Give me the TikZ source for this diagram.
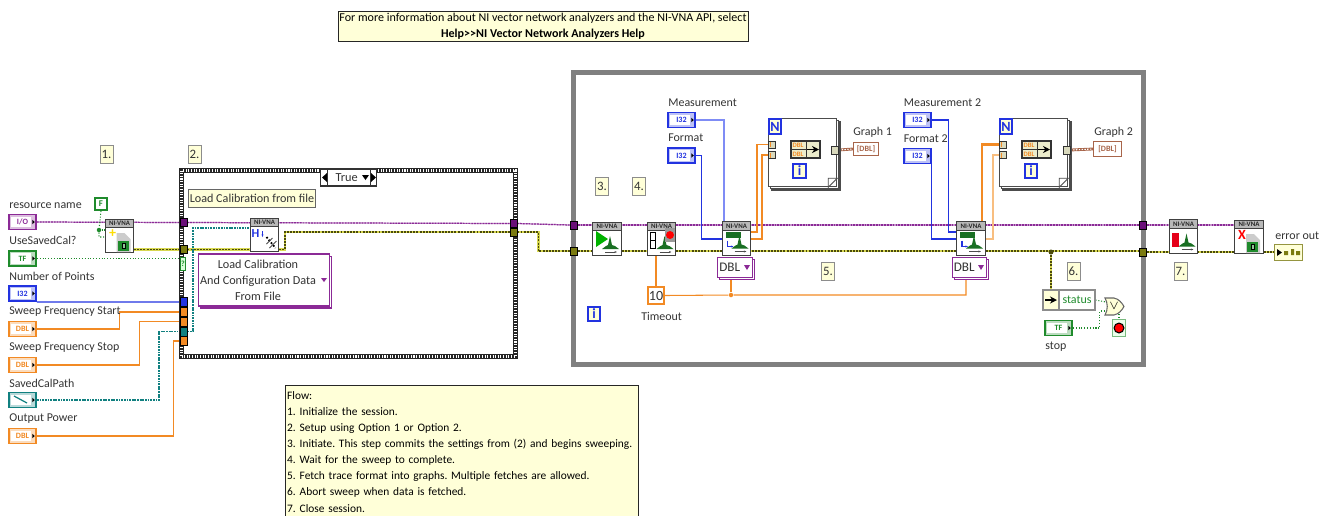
\documentclass[tikz,border=0pt]{standalone}
\usepackage{fontspec}
\setmainfont{Carlito}
\usepackage{tikz}
\usetikzlibrary{shapes,arrows,arrows.meta,positioning,calc,backgrounds,shadows}
\definecolor{nipurple}{HTML}{8B2A96}
\definecolor{nitunnel}{HTML}{6A0F78}
\definecolor{niolive}{HTML}{7B7B10}
\definecolor{nicore}{HTML}{D8D850}
\definecolor{nigreen}{HTML}{1F8B2C}
\definecolor{niblue}{HTML}{2233E0}
\definecolor{nilink}{HTML}{7F8CF5}
\definecolor{niorange}{HTML}{F28A24}
\definecolor{nipale}{HTML}{F8BE80}
\definecolor{niteal}{HTML}{118080}
\definecolor{nibrown}{HTML}{A8654A}
\definecolor{noteyellow}{HTML}{FFFFD8}
\definecolor{looprim}{HTML}{808080}
\frenchspacing

\begin{document}
\begin{tikzpicture}[x=0.02cm,y=-0.02cm,
  lbl/.style={inner sep=0pt, font=\fontsize{6.8}{9}\selectfont, text=black!80},
  term/.style={draw=#1, text=#1, fill=#1!30, line width=1.1pt, minimum width=0.54cm, minimum height=0.3cm,
               inner sep=0pt, font=\fontsize{4.6}{5}\selectfont\bfseries,
               path picture={\fill[white] ([xshift=1.3pt,yshift=1.2pt]path picture bounding box.south west)
                               rectangle ([xshift=-2.6pt,yshift=-1.2pt]path picture bounding box.north east);
                             \fill[black] ([xshift=-2pt,yshift=1.2pt]path picture bounding box.east) -- ++(1.3pt,-1.2pt) -- ++(-1.3pt,-1.2pt) -- cycle;}},
  tun/.style={draw=black, line width=0.4pt, fill=#1, minimum width=0.14cm, minimum height=0.16cm, inner sep=0pt},
  vi/.style={draw=black!75, fill=white, line width=0.6pt, minimum width=0.57cm, minimum height=0.67cm, inner sep=0pt},
  vihead/.style={draw=black!75, fill=black!28, line width=0.5pt, anchor=north, minimum width=0.57cm, minimum height=0.17cm,
                 inner sep=0pt, font=\fontsize{3.9}{4}\selectfont\bfseries, text=black!85},
  casewall/.style={draw=black!85, line width=2.9pt, postaction={draw=white, line width=1.9pt, dash pattern=on 0.6pt off 0.9pt}},
  loopwall/.style={draw=looprim, line width=2.9pt},
  forloop/.style={draw=black!70, fill=white, line width=0.8pt, minimum width=1.36cm, minimum height=1.36cm,
                  double copy shadow={shadow xshift=1pt, shadow yshift=-1pt, draw=black!70, fill=white}},
  stepnote/.style={draw=black!45, fill=noteyellow, line width=0.5pt, minimum width=0.26cm, minimum height=0.36cm,
                   inner sep=0pt, font=\fontsize{7.3}{9}\selectfont, text=black!80},
  idxbox/.style={draw=niblue, fill=noteyellow, line width=1pt, minimum width=0.25cm, minimum height=0.29cm,
                 inner sep=0pt, text=niblue, font=\fontsize{8}{9}\selectfont\bfseries},
  polybox/.style={draw=nipurple, fill=white, line width=0.7pt, inner sep=0pt,
                  copy shadow={shadow xshift=1.2pt, shadow yshift=-1.2pt, draw=nipurple, fill=white}},
  buildbox/.style={draw=black!80, fill=noteyellow!85!gray, line width=0.6pt, minimum width=0.58cm, minimum height=0.34cm, inner sep=0pt},
  dbltag/.style={inner sep=0pt, font=\fontsize{3.8}{4}\selectfont\bfseries, text=niorange},
  wpurple/.style={draw=nipurple!50, line width=0.7pt, postaction={draw=nipurple, line width=0.7pt, dash pattern=on 1pt off 0.6pt}},
  wolive/.style={draw=nicore, line width=1.5pt, postaction={draw=niolive!60!black, line width=0.7pt, dash pattern=on 1.1pt off 0.7pt}},
  wgreen/.style={draw=nigreen, line width=0.6pt, densely dotted},
  wteal/.style={draw=niteal, line width=1pt, dash pattern=on 1pt off 0.5pt},
  wblue/.style={draw=niblue, line width=0.6pt},
  wlink/.style={draw=nilink, line width=0.6pt},
  worange/.style={draw=niorange, line width=0.6pt},
  wthick/.style={draw=niorange, line width=1.3pt},
  wpale/.style={draw=nipale, line width=0.7pt},
  wbrown/.style={draw=nibrown, line width=1.6pt, postaction={draw=white, line width=0.6pt, dash pattern=on 0.8pt off 0.8pt}}
]
\useasboundingbox (0,0) rectangle (1330,515);

% notes
\node[draw=black!85, fill=noteyellow, line width=0.5pt, minimum width=8.2cm, minimum height=0.6cm, inner sep=0pt,
      align=center, font=\fontsize{6.85}{9}\selectfont] (topNote) at (543,26)
  {For more information about NI vector network analyzers and the NI-VNA API, select\\\textbf{Help{>}{>}NI Vector Network Analyzers Help}};
\node[draw=black!85, fill=noteyellow, line width=0.5pt, anchor=north west, text width=7cm, inner xsep=1pt, inner ysep=3.5pt,
      align=left, font=\fontsize{6.5}{9.15}\selectfont] (flowNote) at (285,385)
  {Flow:\\1. Initialize the session.\\2. Setup using Option 1 or Option 2.\\3. Initiate. This step commits the settings from (2) and begins sweeping.\\
   4. Wait for the sweep to complete.\\5. Fetch trace format into graphs. Multiple fetches are allowed.\\6. Abort sweep when data is fetched.\\7. Close session.};
\node[stepnote] (stepOne)   at (106.5,154.5) {1.};
\node[stepnote] (stepTwo)   at (194.5,154.5) {2.};
\node[stepnote] (stepThree) at (602,186) {3.};
\node[stepnote] (stepFour)  at (639,186) {4.};
\node[stepnote] (stepFive)  at (828,271.5) {5.};
\node[stepnote] (stepSix)   at (1073.5,271.5) {6.};
\node[stepnote] (stepSeven) at (1180.5,271.5) {7.};

% structures
\node[casewall, minimum width=6.68cm, minimum height=3.72cm, inner sep=0pt] (caseFrame) at (348.5,263.5) {};
\node[draw=black!80, fill=white, line width=0.6pt, minimum width=1.12cm, minimum height=0.34cm, inner sep=0pt,
      font=\fontsize{7}{9}\selectfont, text=black!80] (caseSel) at (348.5,177.5) {True\hspace*{2pt}};
\fill[black] (322,177.5) -- (327,173) -- (327,182) -- cycle;
\fill[black] (362,175) -- (369,175) -- (365.5,180) -- cycle;
\fill[black] (376,177.5) -- (371,173) -- (371,182) -- cycle;
\draw[black!80, line width=0.5pt] (327.5,169) -- (327.5,186) (370.5,169) -- (370.5,186);
\node[draw=black!60, fill=noteyellow, line width=0.5pt, minimum width=2.54cm, minimum height=0.36cm, inner sep=0pt,
      font=\fontsize{6.9}{9}\selectfont, text=black!80] (caseNote) at (252,198) {Load Calibration from file};
\node[loopwall, minimum width=11.42cm, minimum height=5.84cm, inner sep=0pt] (loopFrame) at (858.5,218.5) {};
\node[idxbox] (loopIdx) at (594,314) {i};

% front terminals
\node[lbl, anchor=west] (rsrcLbl)  at (9,206) {resource name};
\node[lbl, anchor=west] (calLbl)   at (9,240) {UseSavedCal?};
\node[lbl, anchor=west] (ptsLbl)   at (9,276) {Number of Points};
\node[lbl, anchor=west] (startLbl) at (9,312) {Sweep Frequency Start};
\node[lbl, anchor=west] (stopLbl)  at (9,348) {Sweep Frequency Stop};
\node[lbl, anchor=west] (pathLbl)  at (9,383) {SavedCalPath};
\node[lbl, anchor=west] (powerLbl) at (9,419) {Output Power};
\node[term=nipurple] (rsrc)       at (22.5,222) {I/O};
\node[term=nigreen]  (useCal)     at (22.5,258.5) {TF};
\node[term=niblue]   (numPts)     at (22.5,293.5) {I32};
\node[term=niorange] (sweepStart) at (22.5,329) {DBL};
\node[term=niorange] (sweepStop)  at (22.5,365) {DBL};
\node[term=niteal]   (calPath)    at (22.5,400) {};
\draw[niteal, line width=0.7pt] (14,396) -- (27,403);
\node[term=niorange] (outPower)   at (22.5,436) {DBL};
\node[draw=nigreen, fill=white, line width=1.1pt, minimum width=0.24cm, minimum height=0.24cm, inner sep=0pt,
      font=\fontsize{5}{5}\selectfont\bfseries, text=nigreen] (falseConst) at (101,204) {F};

% tunnels
\node[tun=nitunnel] (tunPurpL)  at (183.5,222.5) {};
\node[tun=niolive]  (tunOliveL) at (183.5,249.5) {};
\node[draw=nigreen, fill=green!15, line width=0.5pt, minimum width=0.11cm, minimum height=0.26cm, inner sep=0pt,
      font=\fontsize{4.5}{5}\selectfont\bfseries, text=nigreen] (selQ) at (183,263.5) {?};
\node[tun=niblue, minimum height=0.18cm]   (tunNum)   at (183.5,302) {};
\node[tun=niorange, minimum height=0.18cm] (tunStart) at (183.5,312) {};
\node[tun=niorange, minimum height=0.18cm] (tunStop)  at (183.5,321.5) {};
\node[tun=niteal, minimum height=0.18cm]   (tunPath)  at (183.5,331.5) {};
\node[tun=niorange, minimum height=0.18cm] (tunPower) at (183.5,341) {};
\node[tun=nitunnel] (tunPurpR)    at (513.5,223.5) {};
\node[tun=niolive]  (tunOliveR)   at (513.5,232) {};
\node[tun=nitunnel] (tunPurpIn)   at (574,225) {};
\node[tun=niolive]  (tunOliveIn)  at (574,251) {};
\node[tun=nitunnel] (tunPurpOut)  at (1143,225) {};
\node[tun=niolive]  (tunOliveOut) at (1143,252) {};

% driver icons
\node[vi] (initVi)     at (119.5,236) {};
\node[vi] (loadVi)     at (264.5,235) {};
\node[vi] (initiateVi) at (607,239) {};
\node[vi] (waitVi)     at (661.5,239) {};
\node[vi] (fetchA)     at (736.5,238.5) {};
\node[vi] (fetchB)     at (971,238.5) {};
\node[vi] (abortVi)    at (1183.5,236.5) {};
\node[vi] (closeVi)    at (1249,237) {};
\foreach \vi in {initVi,loadVi,initiateVi,waitVi,fetchA,fetchB,abortVi,closeVi}
  \node[vihead] (\vi Head) at (\vi.north) {NI-VNA};
% sweep glyph
\foreach \vi in {initiateVi,waitVi,fetchA,fetchB,abortVi} {
  \begin{scope}[shift={(\vi.center)}]
    \fill[nigreen!80!black] (-5,10) -- (-1,7) -- (1,6) -- (3,-3) -- (5,6) -- (8,7) -- (12,10) -- cycle;
    \draw[black!70, line width=0.4pt, -{Stealth[length=1.5pt]}] (-2,13) -- (10,13);
  \end{scope}
}
% file glyph
\foreach \vi/\col/\cross in {initVi/yellow!80!orange/+,closeVi/red/X} {
  \begin{scope}[shift={(\vi.center)}]
    \fill[black!20] (-3,-3) -- (5,-3) -- (11,3) -- (11,16) -- (-3,16) -- cycle;
    \fill[nigreen] (-2,5) rectangle (9,15);
    \fill[black] (2,7) rectangle (6,13);
    \fill[nigreen!50] (3,8) rectangle (5,12);
    \node[inner sep=0pt, text=\col, font=\fontsize{8}{8}\selectfont\bfseries] (\vi Mark) at (-7,-2) {\cross};
  \end{scope}
}
\begin{scope}[shift={(loadVi.center)}]
  \node[inner sep=0pt, text=niblue, font=\fontsize{7}{7}\selectfont\bfseries] (loadMark) at (-9,-1) {H};
  \draw[niblue, line width=0.5pt, -{Stealth[length=1.5pt]}] (-2,-4) -- (-2,2);
  \draw[black, line width=1pt, densely dotted] (2,2) -- (11,13);
  \draw[black!70, line width=0.5pt] (2,9) -- (8,3) (5,13) -- (12,6);
\end{scope}
\fill[green!70!black] (596,231) -- (596,247) -- (608,239) -- cycle;
\draw[black, line width=0.4pt] (650,232) rectangle (655,248) (650,240) -- (655,240);
\fill[black!40] (665,228) rectangle (675,242);
\fill[red] (670,235) circle (4);
\foreach \vi in {fetchA,fetchB} {
  \begin{scope}[shift={(\vi.center)}]
    \fill[nigreen!80!black] (-11,-7) rectangle (4,-1);
    \draw[niblue, line width=0.6pt, -{Stealth[length=1.5pt]}] (-9,2) -- (-9,8) -- (-3,8);
  \end{scope}
}
\fill[red!90!blue] (1172,233) rectangle (1179,247);

% constants and selectors
\node[polybox, minimum width=0.7cm, minimum height=0.4cm, font=\fontsize{7.5}{9}\selectfont, text=black!80] (dblA) at (735,267.5) {DBL\hspace*{6pt}};
\node[polybox, minimum width=0.68cm, minimum height=0.4cm, font=\fontsize{7.5}{9}\selectfont, text=black!80] (dblB) at (969.5,267.5) {DBL\hspace*{6pt}};
\fill[nipurple] (744,265) -- (750,265) -- (747,270) -- cycle;
\fill[nipurple] (978,265) -- (984,265) -- (981,270) -- cycle;
\node[polybox, minimum width=2.62cm, minimum height=1.04cm] (loadSel) at (264,280) {};
\node[lbl, align=center, font=\fontsize{6.95}{9.07}\selectfont] (loadSelText) at (258,280) {Load Calibration\\And Configuration Data\\From File};
\fill[nipurple] (321,278) -- (327,278) -- (324,282) -- cycle;
\node[draw=niorange, fill=white, line width=1.2pt, minimum width=0.32cm, minimum height=0.34cm, inner sep=0pt,
      font=\fontsize{8}{9}\selectfont, text=black!80] (tenConst) at (656,295.5) {10};
\node[lbl, anchor=west] (tenLbl) at (641,316) {Timeout};
\node[circle, fill=niorange, minimum size=0.09cm, inner sep=0pt] (tenDot) at (731,295) {};
\coordinate (tenBend) at (966,295);

% fetch inputs
\node[lbl, anchor=west] (measALbl) at (668,102.5) {Measurement};
\node[lbl, anchor=west] (fmtALbl)  at (668,138) {Format};
\node[lbl, anchor=west] (measBLbl) at (903.5,102.5) {Measurement 2};
\node[lbl, anchor=west] (fmtBLbl)  at (903.5,139) {Format 2};
\node[term=niblue] (measA) at (681.5,120) {I32};
\node[term=niblue] (fmtA)  at (681.5,155.5) {I32};
\node[term=niblue] (measB) at (917.5,120) {I32};
\node[term=niblue] (fmtB)  at (917.5,156) {I32};

% for loops
\node[forloop] (loopA) at (802.5,152.5) {};
\node[forloop] (loopB) at (1033.5,152.5) {};
\node[idxbox, minimum height=0.3cm] (loopAn) at (775,126.5) {N};
\node[idxbox, minimum height=0.3cm] (loopBn) at (1006,126.5) {N};
\node[idxbox] (loopAi) at (799.5,171) {i};
\node[idxbox] (loopBi) at (1031,171) {i};
\foreach \lp in {loopA,loopB} {
  \begin{scope}[shift={(\lp.south east)}]
    \draw[black!70, fill=white, line width=0.5pt] (-9,0) -- (0,-9) -- (-9,-9) -- cycle;
  \end{scope}
}
\foreach \n/\x in {A/772,B/1003} {
  \node[tun=noteyellow!70!gray, draw=black!80, minimum height=0.14cm] (tun\n a) at (\x,144.5) {};
  \node[tun=noteyellow!70!gray, draw=black!80, minimum height=0.14cm] (tun\n b) at (\x,155) {};
  \draw[niorange, line width=0.4pt] (\x-1.5,142) -- (\x-1.5,147) (\x-1.5,152.5) -- (\x-1.5,157.5);
}
\node[buildbox] (buildA) at (805.5,149.5) {};
\node[buildbox] (buildB) at (1036.5,149.5) {};
\foreach \n/\x in {A/798,B/1029} {
  \node[dbltag] (build\n a) at (\x,145) {DBL};
  \node[dbltag] (build\n b) at (\x,154) {DBL};
  \draw[black!80, line width=0.4pt] (\x+8,141) -- (\x+8,158) (\x-7,149.5) -- (\x+8,149.5);
  \draw[black, line width=1pt, -{Stealth[length=4pt,width=4pt]}] (\x+9,149.5) -- (\x+21,149.5);
}
\node[tun=noteyellow!70!gray, draw=black!80, minimum width=0.14cm] (tunAout) at (835,150) {};
\node[tun=noteyellow!70!gray, draw=black!80, minimum width=0.14cm] (tunBout) at (1066.5,150) {};

% graphs
\node[lbl, anchor=west] (graphALbl) at (853,132) {Graph 1};
\node[lbl, anchor=west] (graphBLbl) at (1094,132) {Graph 2};
\node[draw=nibrown, fill=white, line width=0.8pt, minimum width=0.5cm, minimum height=0.27cm, inner sep=0pt,
      font=\fontsize{4.6}{5}\selectfont\bfseries, text=nibrown] (graphA) at (866,149) {[DBL]};
\node[draw=nibrown, fill=white, line width=0.8pt, minimum width=0.56cm, minimum height=0.3cm, inner sep=0pt,
      font=\fontsize{4.6}{5}\selectfont\bfseries, text=nibrown] (graphB) at (1107.5,149) {[DBL]};

% stop logic
\node[draw=black!45, fill=noteyellow, line width=0.6pt, minimum width=0.32cm, minimum height=0.4cm, inner sep=0pt] (unbL) at (1051,300) {};
\draw[black, line width=0.9pt, -{Stealth[length=4pt,width=4pt]}] (1045,300) -- (1057,300);
\node[draw=black!45, fill=white, line width=0.6pt, minimum width=0.72cm, minimum height=0.4cm, inner sep=0pt,
      font=\fontsize{6.8}{9}\selectfont, text=nigreen] (unbR) at (1077,300) {status};
\draw[black!60, fill=noteyellow, line width=0.6pt] (1105,298) -- (1114,298) .. controls (1119,299) and (1122,303) .. (1124,306.5)
  .. controls (1122,310) and (1119,314) .. (1114,315) -- (1105,315) .. controls (1108,310) and (1108,303) .. (1105,298) -- cycle;
\node[inner sep=0pt, font=\fontsize{7}{7}\selectfont\bfseries] (orGate) at (1114,306.5) {$\vee$};
\coordinate (orInA) at (1106,302);
\coordinate (orInB) at (1106,311);
\coordinate (orOut) at (1119,314);
\node[draw=nigreen!60, fill=green!8, line width=0.8pt, minimum width=0.26cm, minimum height=0.34cm, inner sep=0pt] (stopCond) at (1119,328) {};
\fill[black] (stopCond.center) circle (5.5);
\fill[red] (stopCond.center) circle (4.2);
\node[term=nigreen] (stopBtn) at (1058.5,328) {TF};
\node[lbl, anchor=west] (stopLblB) at (1045,347) {stop};

% error out
\node[draw=niolive!80, fill=noteyellow, line width=0.9pt, minimum width=0.56cm, minimum height=0.32cm, inner sep=0pt] (errOut) at (1288.5,252.5) {};
\fill[black] (1277,249) -- (1282,252.5) -- (1277,256) -- cycle;
\fill[niolive] (1284,251) rectangle (1288,255) (1291,249) rectangle (1294,255) (1296,251) rectangle (1300,255);
\node[lbl, anchor=west] (errLbl) at (1275,235.5) {error out};

% wires
\coordinate (initOut) at (134,249.5);
\coordinate (loadIn) at (250,249.5);
\coordinate (loadOut) at (279,249.5);
\coordinate (loadPath) at (250,228);
\coordinate (fetchAmeas) at (724,222);
\coordinate (fetchAfmt) at (722,239);
\coordinate (fetchAoutA) at (751,232);
\coordinate (fetchAoutB) at (751,239);
\coordinate (fetchBmeas) at (957,232);
\coordinate (fetchBfmt) at (957,239);
\coordinate (fetchBoutA) at (982,222);
\coordinate (fetchBoutB) at (985,239);
\coordinate (waitOut) at (656,255);
\coordinate (falseDot) at (99,230);
\node[circle, fill=niolive!60!black, minimum size=0.1cm, inner sep=0pt] (oliveDot) at (1051,252) {};
\node[circle, fill=nigreen, minimum size=0.09cm, inner sep=0pt] (falseJoin) at (falseDot) {};
\begin{scope}[on background layer]
  \draw[wpurple] (rsrc.east) -- (tunPurpL.west);
  \draw[wpurple] (tunPurpL.east) -- (tunPurpR.west);
  \draw[wpurple] (tunPurpR.east) -- (tunPurpIn.west);
  \draw[wpurple] (tunPurpIn.east) -- (tunPurpOut.west);
  \draw[wpurple] (tunPurpOut.east) -- (closeVi.north west |- tunPurpOut);
  \draw[wolive] (initOut) -- (tunOliveL.west);
  \draw[wolive] (tunOliveL.east) -- (loadIn);
  \draw[wolive] (loadOut) -- ++(6,0) |- (tunOliveR.west);
  \draw[wolive] (tunOliveR.east) -- ++(21,0) |- (tunOliveIn.west);
  \draw[wolive] (tunOliveIn.east) -- (tunOliveOut.west |- tunOliveIn);
  \draw[wolive] (tunOliveOut.east) -- (errOut.west |- tunOliveOut);
  \draw[wolive] (oliveDot) -- (unbL.north);
  \draw[wgreen] (useCal.east) -- (selQ.west |- useCal);
  \draw[wgreen] (falseConst.south) -- (falseJoin) -- ++(0,7) -- ++(6,0);
  \draw[wgreen] (falseJoin) -- (initVi.west |- falseJoin);
  \draw[wblue] (numPts.south east) -- (tunNum.west);
  \draw[worange] (sweepStart.east) -- ++(83,0) |- (tunStart.west);
  \draw[worange] (sweepStop.east) -- ++(103,0) |- (tunStop.west);
  \draw[wteal] (calPath.east) -- ++(122,0) |- (tunPath.west);
  \draw[worange] (outPower.east) -- ++(137,0) |- (tunPower.west);
  \draw[wteal] (tunPath.east) -- ++(6,0) |- (loadPath);
  \draw[worange] (waitOut) -- (tenConst.north);
  \draw[worange] (tenConst.east) -- (tenDot) -- (tenBend) -- (tenBend |- dblB.south);
  \draw[worange] (tenDot) -- (tenDot |- dblA.south);
  \draw[wlink] (measA.east) -| (fetchAmeas);
  \draw[wblue] (fmtA.east) -- ++(6,0) |- (fetchAfmt);
  \draw[wblue] (measB.east) -- ++(17,0) |- (fetchBmeas);
  \draw[wblue] (fmtB.east) |- (fetchBfmt);
  \draw[worange, line width=1pt] (fetchAoutA) -- ++(6,0) |- (tunAa.west);
  \draw[wthick] (fetchAoutB) -- ++(11,0) |- (tunAb.west);
  \draw[wthick] (fetchBoutA) |- (tunBa.west);
  \draw[wpale] (fetchBoutB) -- ++(8,0) |- (tunBb.west);
  \foreach \n in {A,B} {
    \draw[wpale] (tun\n a.east) -- ++(8,0) |- (build\n b.west);
    \draw[worange] (tun\n a.east) -- (build\n a.west);
    \draw[worange] (tun\n b.east) -- (build\n b.west);
    \draw[wbrown] (build\n.east) -- (tun\n out.west);
  }
  \draw[wbrown] (tunAout.east) -- (graphA.west);
  \draw[wbrown] (tunBout.east) -- (graphB.west);
  \draw[wgreen] (unbR.east) -- (orInA);
  \draw[wgreen] (stopBtn.east) -- ++(27,0) |- (orInB);
  \draw[wgreen] (orOut) -- (stopCond.north);
\end{scope}
\end{tikzpicture}
\end{document}
